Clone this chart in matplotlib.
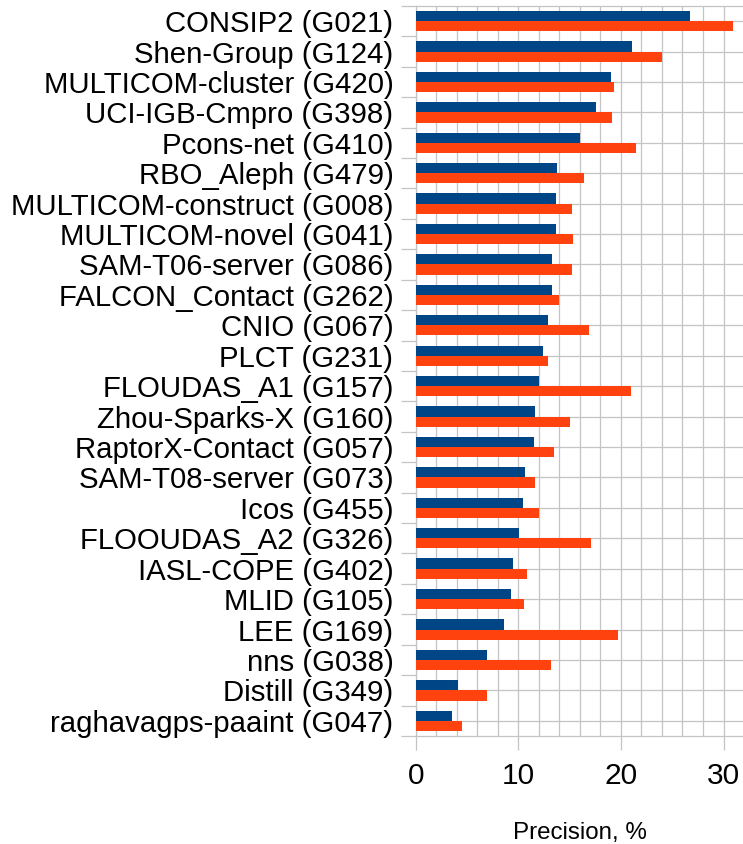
import numpy as np
import matplotlib.pyplot as plt
from matplotlib.ticker import MultipleLocator

groups = ["CONSIP2 (G021)", "Shen-Group (G124)", "MULTICOM-cluster (G420)",
          "UCI-IGB-Cmpro (G398)", "Pcons-net (G410)", "RBO_Aleph (G479)",
          "MULTICOM-construct (G008)", "MULTICOM-novel (G041)",
          "SAM-T06-server (G086)", "FALCON_Contact (G262)", "CNIO (G067)",
          "PLCT (G231)", "FLOUDAS_A1 (G157)", "Zhou-Sparks-X (G160)",
          "RaptorX-Contact (G057)", "SAM-T08-server (G073)", "Icos (G455)",
          "FLOOUDAS_A2 (G326)", "IASL-COPE (G402)", "MLID (G105)",
          "LEE (G169)", "nns (G038)", "Distill (G349)",
          "raghavagps-paaint (G047)"]

# blue series (top bar of each pair)
precision_a = [26.7, 21.05, 19.0, 17.6, 16.05, 13.75, 13.7, 13.7, 13.3, 13.3,
               12.85, 12.4, 12.05, 11.65, 11.55, 10.7, 10.45, 10.05, 9.5, 9.25,
               8.65, 6.9, 4.1, 3.5]
# orange series (bottom bar of each pair)
precision_b = [30.95, 24.0, 19.35, 19.15, 21.5, 16.4, 15.25, 15.35, 15.25, 14.0,
               16.9, 12.9, 21.0, 15.05, 13.5, 11.6, 12.0, 17.05, 10.8, 10.6,
               19.7, 13.2, 6.95, 4.5]

blue = "#004586"
orange = "#ff420e"
grid_col = "#c4c4c4"

plt.rcParams["font.family"] = ["Liberation Sans", "DejaVu Sans"]

fig = plt.figure(figsize=(7.43, 8.44), dpi=100)
ax = fig.add_axes([0.5595, 0.128, 0.4419, 0.865])

y = np.arange(len(groups))
h = 0.335
ax.barh(y - h / 2, precision_a, height=h, color=blue, zorder=3)
ax.barh(y + h / 2, precision_b, height=h, color=orange, zorder=3)

ax.set_xlim(0, 32)
ax.set_ylim(len(groups) - 0.5, -0.5)

# x axis: major labels every 10, grid every 2
ax.xaxis.set_major_locator(MultipleLocator(10))
ax.xaxis.set_minor_locator(MultipleLocator(2))
ax.grid(axis="x", which="both", color=grid_col, linewidth=0.9, zorder=0)
ax.tick_params(axis="x", which="major", length=10, width=0.9, color=grid_col,
               labelsize=21.5, pad=9, labelcolor="black")
ax.tick_params(axis="x", which="minor", length=0)

# y axis: labels at category centres, tick marks at boundaries
ax.set_yticks(y)
ax.set_yticklabels(groups)
ax.set_yticks(np.arange(len(groups) + 1) - 0.5, minor=True)
ax.tick_params(axis="y", which="major", length=0, labelsize=21.2, pad=16)
ax.tick_params(axis="y", which="minor", length=11, width=0.9, color=grid_col)
ax.grid(axis="y", which="major", color=grid_col, linewidth=0.9, zorder=0)

for side in ["left", "top", "bottom"]:
    ax.spines[side].set_color(grid_col)
    ax.spines[side].set_linewidth(0.9)
ax.spines["right"].set_visible(False)

ax.set_xlabel("Precision, %", fontsize=17.4, labelpad=23)

fig.savefig("out.png", dpi=100)
